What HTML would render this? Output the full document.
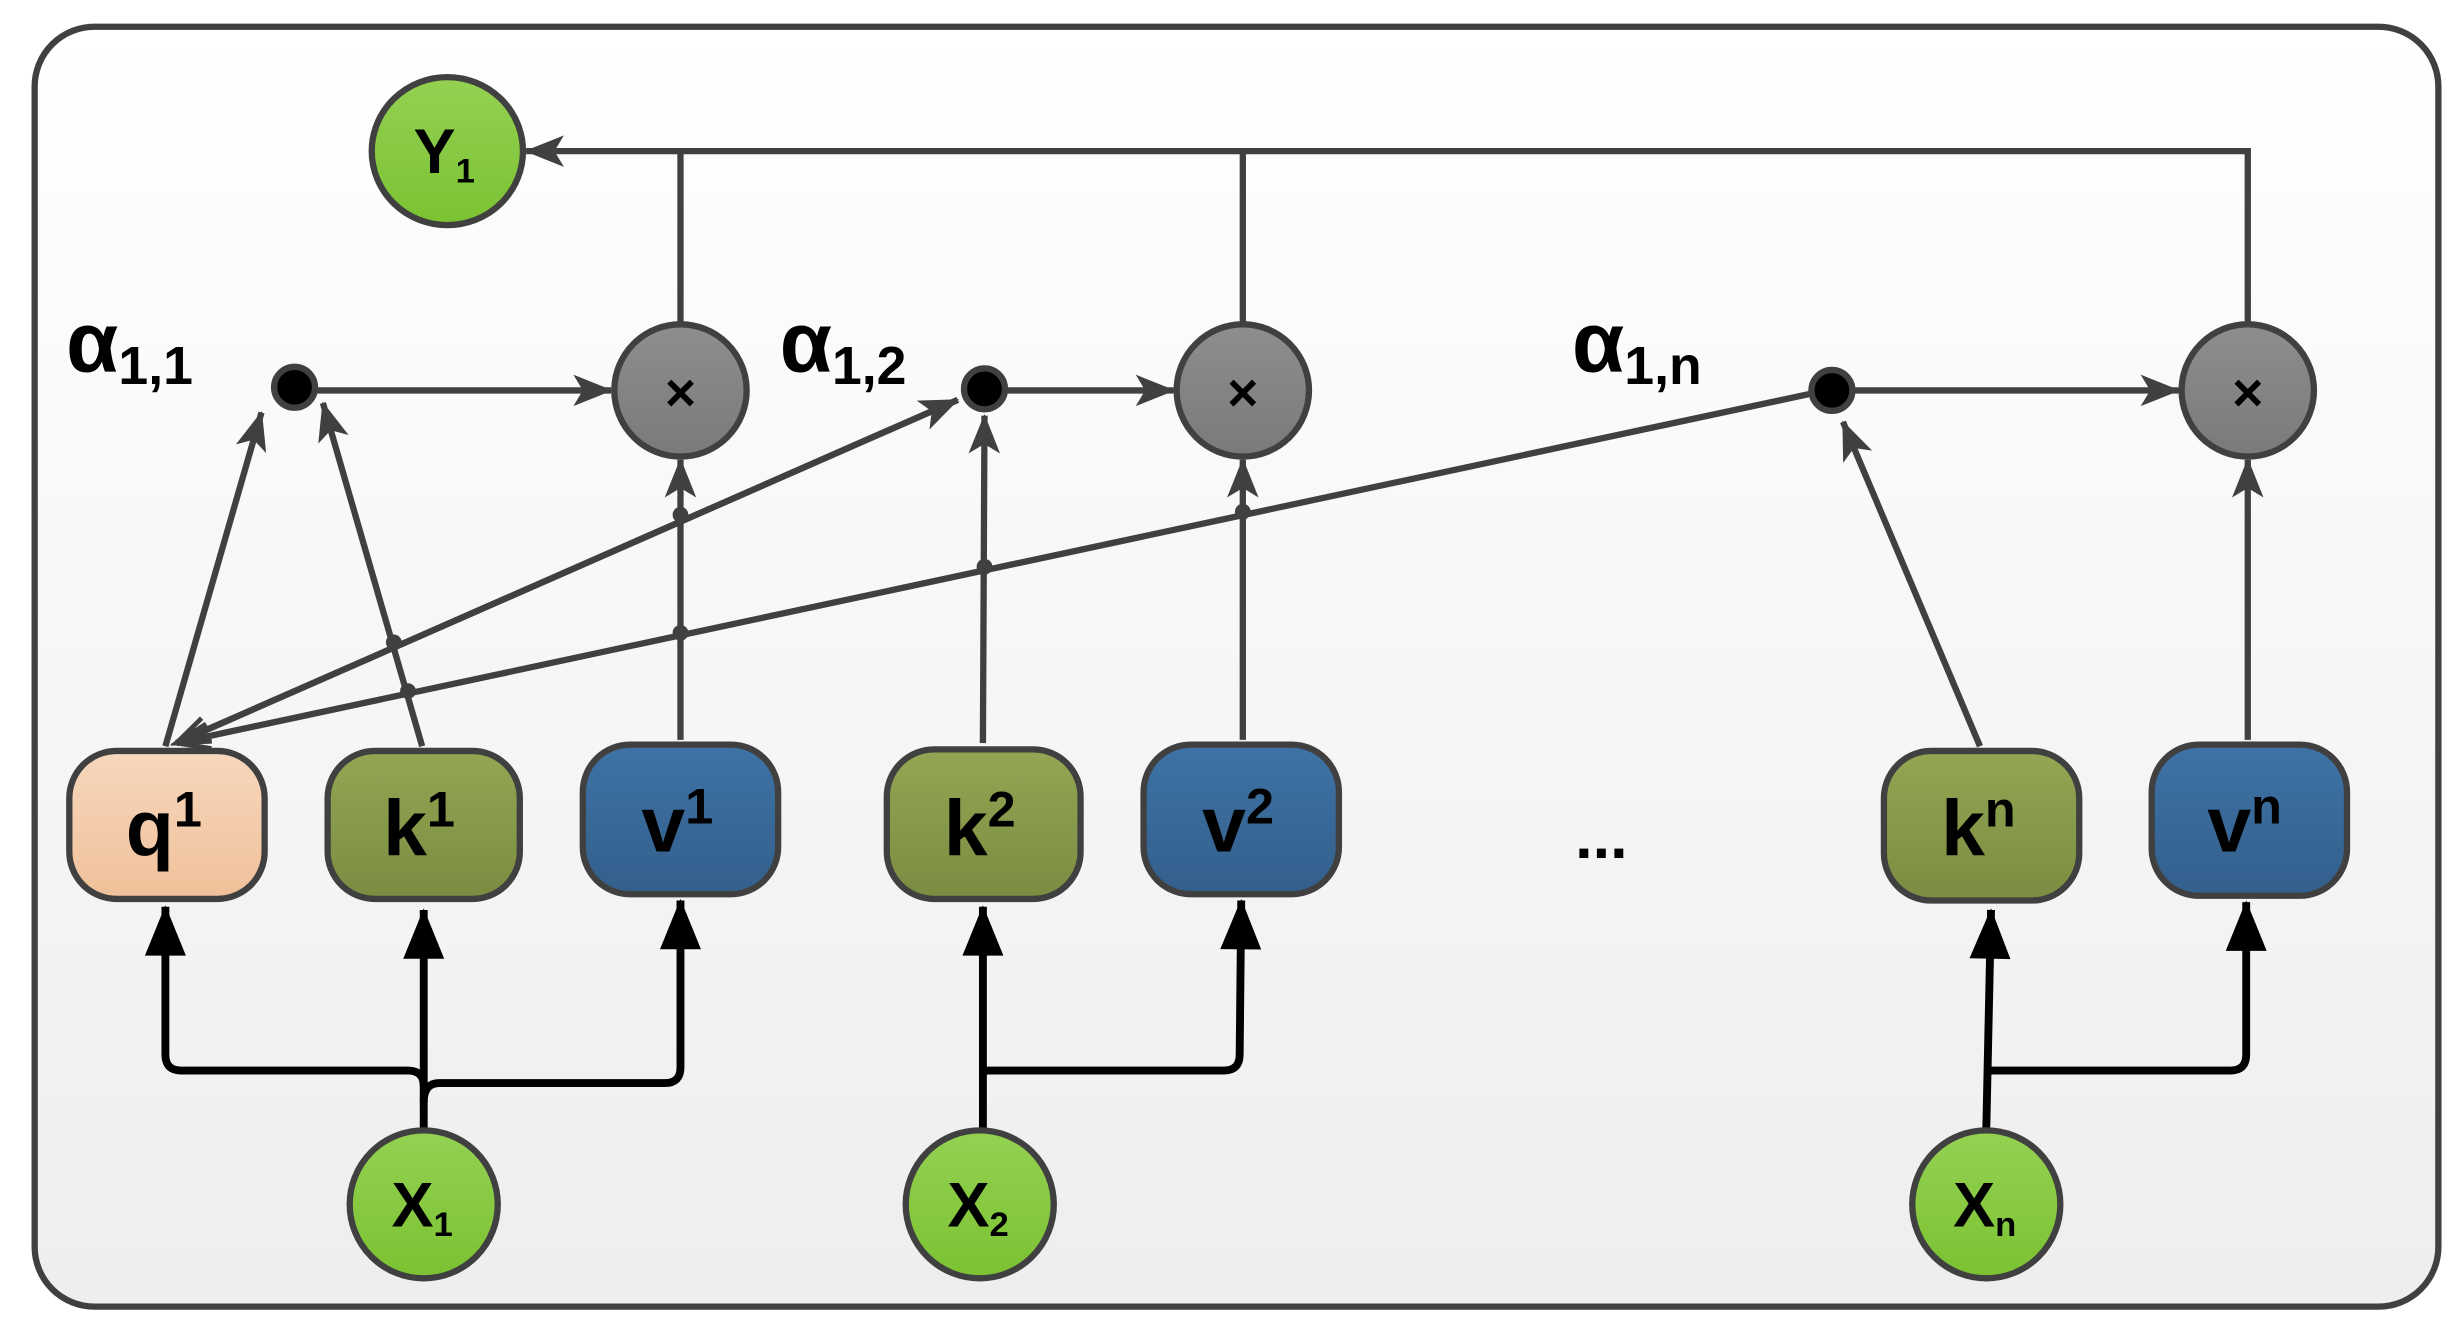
<!DOCTYPE html>
<html><head><meta charset="utf-8"><style>
html,body{margin:0;padding:0;background:#fff;}
svg{display:block;}
text{font-family:"Liberation Sans","DejaVu Sans",sans-serif;font-weight:bold;fill:#000;}
</style></head><body>
<svg width="2462" height="1335" viewBox="0 0 1563 848" preserveAspectRatio="none" xmlns="http://www.w3.org/2000/svg">
<defs>
<linearGradient id="bg" x1="0" y1="0" x2="0" y2="1"><stop offset="0" stop-color="#ffffff"/><stop offset="1" stop-color="#eeeeee"/></linearGradient>
<linearGradient id="gr" x1="0" y1="0" x2="0" y2="1"><stop offset="0" stop-color="#94d152"/><stop offset="1" stop-color="#7bc232"/></linearGradient>
<linearGradient id="gy" x1="0" y1="0" x2="0" y2="1"><stop offset="0" stop-color="#8e8e8e"/><stop offset="1" stop-color="#7a7a7a"/></linearGradient>
<linearGradient id="pe" x1="0" y1="0" x2="0" y2="1"><stop offset="0" stop-color="#f7d7bd"/><stop offset="1" stop-color="#f0c19a"/></linearGradient>
<linearGradient id="ol" x1="0" y1="0" x2="0" y2="1"><stop offset="0" stop-color="#93a653"/><stop offset="1" stop-color="#7b8c41"/></linearGradient>
<linearGradient id="bl" x1="0" y1="0" x2="0" y2="1"><stop offset="0" stop-color="#3e73a6"/><stop offset="1" stop-color="#335f8c"/></linearGradient>
<marker id="ga" refX="24" refY="10" markerWidth="26" markerHeight="20" markerUnits="userSpaceOnUse" orient="auto" overflow="visible"><path d="M0,0 L25,10 L0,20 L6,10 Z" fill="#404040"/></marker>
<marker id="ba" refX="31" refY="13" markerWidth="32" markerHeight="26" markerUnits="userSpaceOnUse" orient="auto" overflow="visible"><path d="M0,0 L32,13 L0,26 Z" fill="#000"/></marker>
<marker id="oa" refX="22" refY="9" markerWidth="24" markerHeight="18" markerUnits="userSpaceOnUse" orient="auto" overflow="visible"><path d="M1,1 L22,9 L1,17" fill="none" stroke="#404040" stroke-width="3"/></marker>
</defs>
<rect x="22" y="17" width="1526" height="813" rx="38" fill="url(#bg)" stroke="#404040" stroke-width="4"/>

<g stroke="#404040" stroke-width="4" fill="none">
<polyline points="432,207 432,96"/>
<polyline points="789,207 789,96"/>
<polyline points="1427,207 1427,96 334,96" marker-end="url(#ga)"/>
<line x1="200" y1="248" x2="388" y2="248" marker-end="url(#ga)"/>
<line x1="638" y1="248" x2="745" y2="248" marker-end="url(#ga)"/>
<line x1="1176" y1="248" x2="1383" y2="248" marker-end="url(#ga)"/>
<line x1="105" y1="474" x2="166" y2="262" marker-end="url(#ga)"/>
<line x1="268" y1="474" x2="205" y2="256" marker-end="url(#ga)"/>
<line x1="432" y1="470" x2="432" y2="292" marker-end="url(#ga)"/>
<line x1="624" y1="472" x2="625" y2="264" marker-end="url(#ga)"/>
<line x1="789" y1="470" x2="789" y2="292" marker-end="url(#ga)"/>
<line x1="1257" y1="474" x2="1170" y2="268" marker-end="url(#ga)"/>
<line x1="1427" y1="470" x2="1427" y2="292" marker-end="url(#ga)"/>
<line x1="112" y1="472" x2="608" y2="254" marker-end="url(#ga)"/>
<line x1="1150" y1="250" x2="112" y2="472" marker-end="url(#oa)"/>
<line x1="608" y1="254" x2="112" y2="472" marker-end="url(#oa)"/>
</g>
<g fill="#404040"><circle cx="432" cy="327" r="5"/><circle cx="250" cy="408" r="5"/><circle cx="259" cy="439" r="5"/><circle cx="432" cy="402" r="5"/><circle cx="625" cy="360" r="5"/><circle cx="789" cy="325" r="5"/></g>

<g stroke="#000" stroke-width="5" fill="none" stroke-linejoin="round">
<path d="M269,717 L269,578" marker-end="url(#ba)"/>
<path d="M269,690 Q269,680 259,680 L115,680 Q105,680 105,670 L105,576" marker-end="url(#ba)"/>
<path d="M269,700 Q269,688 279,688 L422,688 Q432,688 432,678 L432,572" marker-end="url(#ba)"/>
<path d="M624,717 L624,576" marker-end="url(#ba)"/>
<path d="M624,680 L777,680 Q787,680 787,670 L788,572" marker-end="url(#ba)"/>
<path d="M1261,717 L1264,578" marker-end="url(#ba)"/>
<path d="M1262,680 L1416,680 Q1426,680 1426,670 L1426,573" marker-end="url(#ba)"/>
</g>

<g stroke="#404040" stroke-width="4">
<ellipse cx="284" cy="96" rx="48" ry="47" fill="url(#gr)"/>
<ellipse cx="269" cy="765" rx="47" ry="47" fill="url(#gr)"/>
<ellipse cx="622" cy="765" rx="47" ry="47" fill="url(#gr)"/>
<ellipse cx="1261" cy="765" rx="47" ry="47" fill="url(#gr)"/>
<circle cx="432" cy="248" r="42" fill="url(#gy)"/>
<circle cx="789" cy="248" r="42" fill="url(#gy)"/>
<circle cx="1427" cy="248" r="42" fill="url(#gy)"/>
<circle cx="187" cy="246" r="13" fill="#000"/>
<circle cx="625" cy="247" r="13" fill="#000"/>
<circle cx="1163" cy="248" r="13" fill="#000"/>
<rect x="44" y="477" width="124" height="94" rx="30" fill="url(#pe)"/>
<rect x="208" y="477" width="122" height="94" rx="30" fill="url(#ol)"/>
<rect x="370" y="473" width="124" height="95" rx="30" fill="url(#bl)"/>
<rect x="563" y="476" width="123" height="95" rx="30" fill="url(#ol)"/>
<rect x="726" y="473" width="124" height="95" rx="30" fill="url(#bl)"/>
<rect x="1196" y="477" width="124" height="95" rx="30" fill="url(#ol)"/>
<rect x="1366" y="473" width="124" height="96" rx="30" fill="url(#bl)"/>
</g>

<g font-size="50" text-anchor="middle">
<text x="104" y="543">q<tspan font-size="32" dy="-18">1</tspan></text>
<text x="266" y="543">k<tspan font-size="32" dy="-18">1</tspan></text>
<text x="430" y="541">v<tspan font-size="32" dy="-18">1</tspan></text>
<text x="622" y="543">k<tspan font-size="32" dy="-18">2</tspan></text>
<text x="786" y="541">v<tspan font-size="32" dy="-18">2</tspan></text>
<text x="1256" y="543">k<tspan font-size="32" dy="-18">n</tspan></text>
<text x="1425" y="541">v<tspan font-size="32" dy="-18">n</tspan></text>
</g>
<g font-size="40" text-anchor="middle">
<text x="282" y="110">Y<tspan font-size="22" dy="6">1</tspan></text>
<text x="268" y="779">X<tspan font-size="22" dy="6">1</tspan></text>
<text x="621" y="779">X<tspan font-size="22" dy="6">2</tspan></text>
<text x="1260" y="779">X<tspan font-size="22" dy="6">n</tspan></text>
</g>
<g font-size="34" text-anchor="middle"><text x="432" y="261">×</text><text x="789" y="261">×</text><text x="1427" y="261">×</text></g>
<g font-size="54">
<text x="42" y="236">α<tspan font-size="34" dy="8">1,1</tspan></text>
<text x="495" y="236">α<tspan font-size="34" dy="8">1,2</tspan></text>
<text x="998" y="236">α<tspan font-size="34" dy="8">1,n</tspan></text>
</g>
<text x="1000" y="545" font-size="40">...</text>
</svg>
</body></html>
